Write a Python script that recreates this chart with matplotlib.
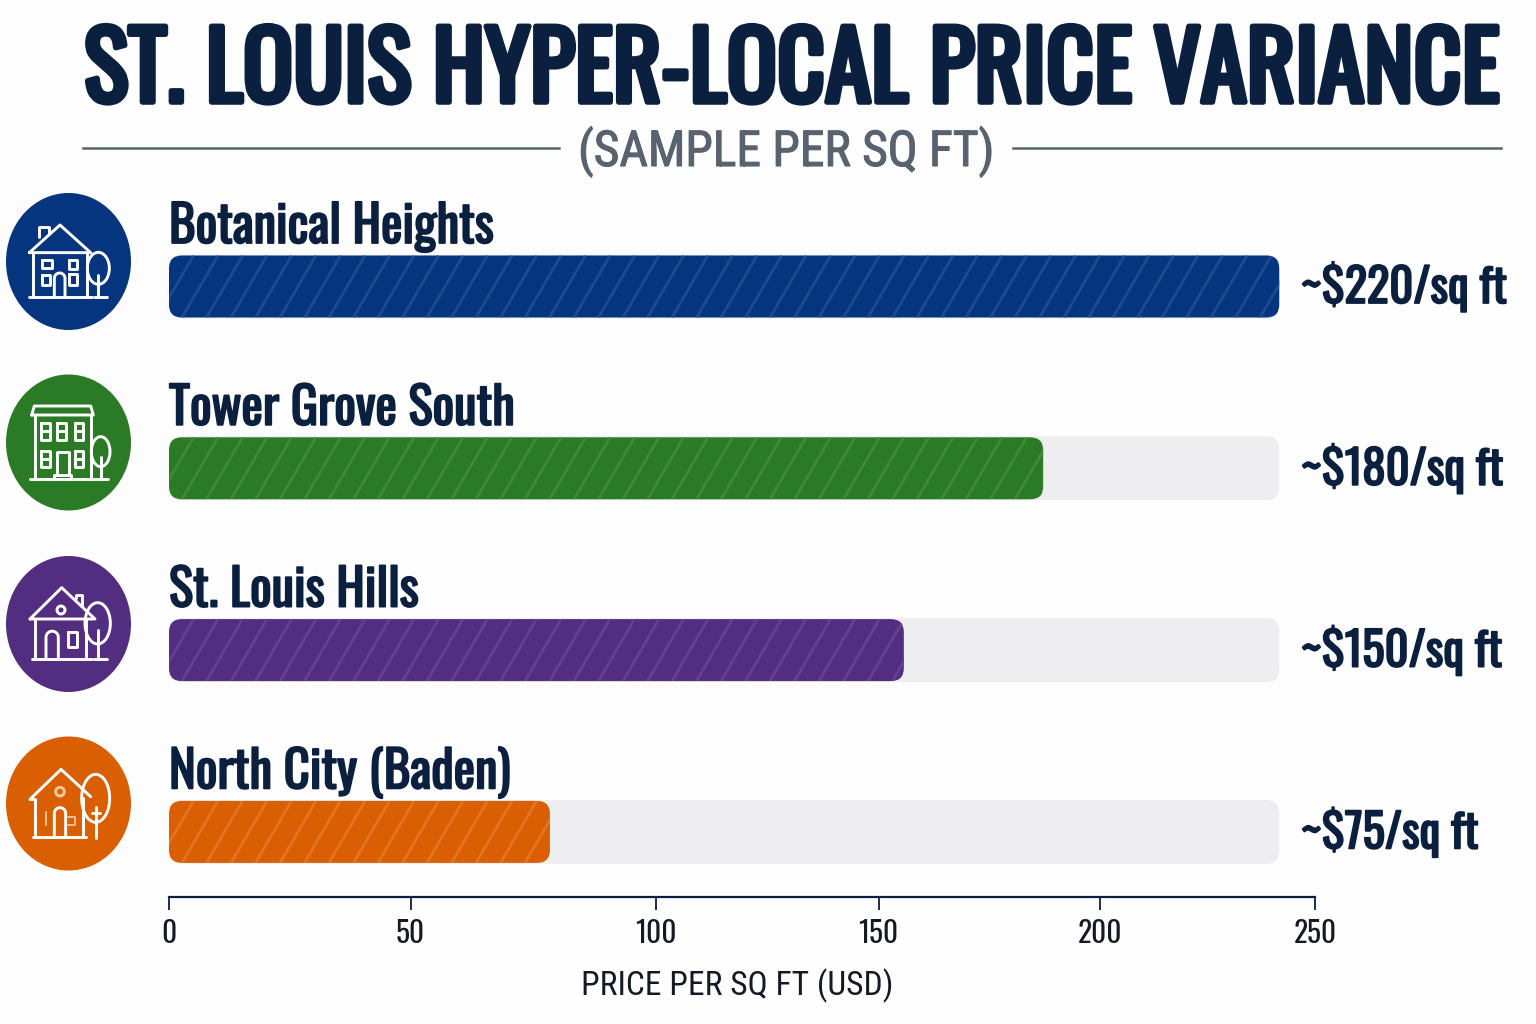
import numpy as np
import matplotlib
matplotlib.use('Agg')
import matplotlib.pyplot as plt
import matplotlib.patheffects as pe
from matplotlib.patches import FancyBboxPatch, Ellipse
from matplotlib.collections import LineCollection

BASE_FONTS = ['Roboto Condensed', 'Barlow Condensed', 'Asap Condensed', 'Roboto', 'DejaVu Sans']
TALL_FONTS = ['Oswald'] + BASE_FONTS
plt.rcParams['font.family'] = BASE_FONTS

NAVY = '#0B1F3F'
GREY = '#59626F'

neighborhoods = ['Botanical Heights', 'Tower Grove South', 'St. Louis Hills', 'North City (Baden)']
price_labels = ['~$220/sq ft', '~$180/sq ft', '~$150/sq ft', '~$75/sq ft']
# bar lengths as they sit against the drawn axis
bar_lengths = [242.2, 190.7, 160.3, 83.1]
track_length = 242.2
bar_colors = ['#05357F', '#2B7A26', '#532D7F', '#D95F02']
stripe_colors = ['#1E4A8F', '#41893A', '#65408F', '#E37423']
tick_positions = [0, 52.7, 106.3, 154.8, 203.1, 250]
tick_labels = ['0', '50', '100', '150', '200', '250']

W, H = 1536, 1024
fig = plt.figure(figsize=(W / 100, H / 100), dpi=100, facecolor='#FDFDFD')
renderer = fig.canvas.get_renderer()


def fit_width(txt, width_px):
    # scale a text so it spans the same width whichever font was found
    w = txt.get_window_extent(renderer).width
    txt.set_fontsize(txt.get_fontsize() * width_px / w)
    return txt.get_fontsize()


# overlay in pixel coordinates for title, rules and icons
bg = fig.add_axes([0, 0, 1, 1])
bg.set_xlim(0, W)
bg.set_ylim(H, 0)
bg.axis('off')

title = bg.text(792, 102, 'ST. LOUIS HYPER-LOCAL PRICE VARIANCE', ha='center', va='baseline',
                fontsize=70, fontweight='bold', color=NAVY, family=TALL_FONTS)
fit_width(title, 1416)
title.set_path_effects([pe.withStroke(linewidth=4, foreground=NAVY)])
sub = bg.text(786, 166, '(SAMPLE PER SQ FT)', ha='center', va='baseline', fontsize=37, color=GREY)
fit_width(sub, 416)
sub.set_path_effects([pe.withStroke(linewidth=0.8, foreground=GREY)])
bg.plot([83, 559], [148, 148], color=GREY, lw=1.8)
bg.plot([1013, 1501], [148, 148], color=GREY, lw=1.8)

# main chart axes
left, right, top, bottom = 169, 1315, 250, 896.5
row_px = 181.8
ax = fig.add_axes([left / W, 1 - bottom / H, (right - left) / W, (bottom - top) / H])
ax.patch.set_alpha(0)
ax.set_xlim(0, 250)
ax.set_ylim((bottom - 286.5) / row_px, (top - 286.5) / row_px)
x_px = (right - left) / 250

rounding = 13 / x_px
aspect = (13 / row_px) / rounding


def rounded_bar(y, length, height, color, zorder):
    box = FancyBboxPatch((0, y - height / 2), length, height,
                         boxstyle=f'round,pad=0,rounding_size={rounding}',
                         mutation_aspect=aspect, fc=color, ec='none', zorder=zorder)
    ax.add_patch(box)
    return box


name_size = None
price_size = None
heavy = [pe.withStroke(linewidth=1.3, foreground=NAVY)]
for i, name in enumerate(neighborhoods):
    rounded_bar(i, track_length, 64 / row_px, '#EEEEF0', 1)
    bar = rounded_bar(i, bar_lengths[i], 62 / row_px, bar_colors[i], 2)

    # faint diagonal stripes clipped to the bar
    h = 62 / row_px
    lean = 36 / x_px
    segs = [[(s, i + h / 2), (s + lean, i - h / 2)]
            for s in np.arange(-lean, bar_lengths[i], 24.5 / x_px)]
    lines = LineCollection(segs, colors=stripe_colors[i], linewidths=2, zorder=3)
    ax.add_collection(lines)
    lines.set_clip_path(bar)

    t1 = ax.text(0, i - 43.5 / row_px, name, ha='left', va='baseline', fontsize=35,
                 fontweight='bold', color=NAVY, zorder=4, family=TALL_FONTS)
    t2 = ax.text((1301 - left) / x_px, i + 16.5 / row_px, price_labels[i], ha='left', va='baseline',
                 fontsize=36, fontweight='bold', color=NAVY, zorder=4, family=TALL_FONTS)
    if i == 0:
        name_size = fit_width(t1, 325)
        price_size = fit_width(t2, 206)
    else:
        t1.set_fontsize(name_size)
        t2.set_fontsize(price_size)
    t1.set_path_effects(heavy)
    t2.set_path_effects(heavy)

for s in ['top', 'left', 'right']:
    ax.spines[s].set_visible(False)
ax.spines['bottom'].set_color(NAVY)
ax.spines['bottom'].set_linewidth(1.6)
ax.set_yticks([])
ax.set_xticks(tick_positions)
ax.set_xticklabels(tick_labels, fontsize=24, color='#141A24', family=TALL_FONTS)
ax.tick_params(axis='x', length=9, width=1.3, color=NAVY, pad=7)
for lab in ax.get_xticklabels():
    if lab.get_text() == '100':
        tick_size = fit_width(lab, 41)
ax.tick_params(axis='x', labelsize=tick_size)
xlab = ax.set_xlabel('PRICE PER SQ FT (USD)', fontsize=25, color='#141A24', labelpad=15,
                     x=(737 - left) / (right - left))
fit_width(xlab, 312)

# icon badges: coordinates are in the 3x zoom space of each icon block
WHITE = '#FFFFFF'
ICON_LW = 2.1


def pts(coords, oy):
    return [c[0] / 3 for c in coords], [c[1] / 3 + oy for c in coords]


def line(coords, oy, lw=ICON_LW, color=WHITE):
    xs, ys = pts(coords, oy)
    bg.plot(xs, ys, color=color, lw=lw, solid_capstyle='round', solid_joinstyle='round')


def rect(x0, y0, x1, y1, oy, mid=False):
    line([(x0, y0), (x1, y0), (x1, y1), (x0, y1), (x0, y0)], oy)
    if mid:
        line([(x0, (y0 + y1) / 2), (x1, (y0 + y1) / 2)], oy)


def door(x0, x1, ytop, ybase, oy):
    r = (x1 - x0) / 2
    t = np.linspace(np.pi, 0, 16)
    arc = [(x0 + r + r * np.cos(a), ytop - r * np.sin(a)) for a in t]
    line([(x0, ybase)] + arc + [(x1, ybase)], oy)


def tree(cx, cy, rx, ry, y0, ybase, oy, b0=None, b1=None):
    bg.add_patch(Ellipse((cx / 3, cy / 3 + oy), 2 * rx / 3, 2 * ry / 3, fc='none', ec=WHITE, lw=ICON_LW))
    line([(cx, y0), (cx, ybase)], oy)
    if b0 is not None:
        line([(b0, ybase), (b1, ybase)], oy)


def circle(cx, cy, r, oy, color=WHITE):
    bg.add_patch(Ellipse((cx / 3, cy / 3 + oy), 2 * r / 3, 2 * r / 3, fc='none', ec=color, lw=ICON_LW))


badges = [(261.5, 68.5), (442.5, 68), (624, 68), (803.5, 67)]
for (cy, ry), col in zip(badges, bar_colors):
    bg.add_patch(Ellipse((68.5, cy), 125, 2 * ry, fc=col, ec='none'))

# Botanical Heights
oy = 180
line([(88, 218), (180, 135), (272, 218), (88, 218)], oy)
line([(118, 170), (118, 142), (146, 142), (146, 160)], oy)
line([(100, 220), (100, 352)], oy)
line([(260, 220), (260, 352)], oy)
line([(88, 352), (275, 352)], oy)
rect(127, 240, 157, 265, oy)
rect(207, 240, 232, 268, oy)
rect(125, 285, 150, 315, oy)
rect(207, 282, 232, 315, oy)
door(163, 195, 295, 352, oy)
tree(295, 265, 33, 48, 285, 352, oy, 283, 322)

# Tower Grove South
line([(95, 705), (103, 678), (272, 678), (280, 705), (95, 705)], oy)
line([(105, 705), (105, 898)], oy)
line([(272, 705), (272, 898)], oy)
line([(90, 898), (325, 898)], oy)
for x0, x1 in [(122, 150), (172, 198), (225, 250)]:
    rect(x0, 728, x1, 780, oy, mid=True)
rect(122, 812, 150, 860, oy, mid=True)
rect(225, 812, 250, 860, oy, mid=True)
line([(172, 882), (172, 815), (208, 815), (208, 882)], oy)
line([(162, 898), (162, 885), (212, 885), (212, 898)], oy)
tree(302, 815, 28, 45, 830, 898, oy)

# St. Louis Hills
oy = 550
line([(90, 207), (185, 113), (285, 207), (90, 207)], oy)
line([(228, 145), (228, 135), (247, 135), (247, 165)], oy)
circle(183, 180, 12, oy)
line([(105, 207), (105, 327)], oy)
line([(258, 207), (258, 327)], oy)
line([(95, 327), (275, 327)], oy)
door(138, 175, 262, 327, oy)
rect(205, 245, 232, 290, oy)
tree(293, 220, 38, 62, 240, 327, oy, 283, 322)

# North City
line([(90, 748), (183, 658), (272, 740)], oy)
line([(90, 748), (105, 748), (105, 862)], oy)
line([(250, 745), (250, 862)], oy)
line([(98, 862), (258, 862)], oy)
door(163, 197, 790, 862, oy)
circle(180, 725, 13, oy, '#F6C9A0')
line([(137, 785), (137, 825)], oy, color='#F6C9A0', lw=1.3)
line([(205, 800), (225, 800), (225, 825), (205, 825)], oy, color='#F6C9A0', lw=1.3)
tree(287, 745, 42, 72, 770, 865, oy)
line([(275, 788), (300, 788)], oy)

fig.savefig('out.png', dpi=100, facecolor=fig.get_facecolor())
